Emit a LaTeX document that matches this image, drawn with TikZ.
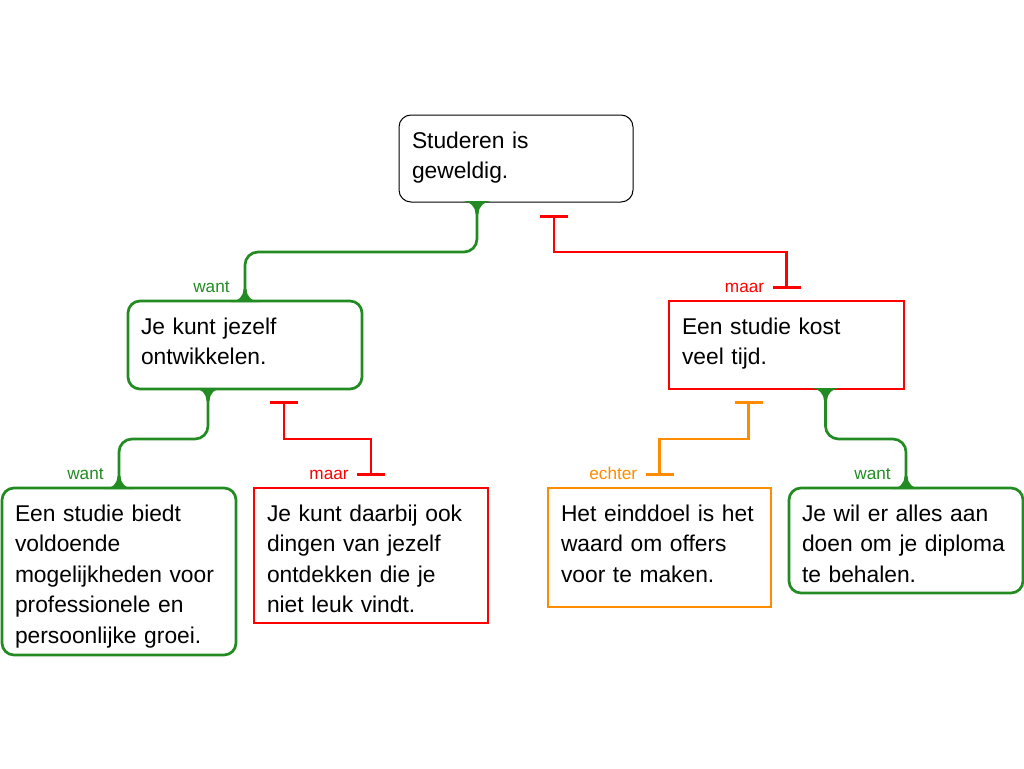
\documentclass[tikz,border=0pt]{standalone}
\usepackage{fontspec}
\setmainfont{Liberation Sans}
\usepackage{tikz}
\usetikzlibrary{positioning, calc, arrows.meta}
\definecolor{wantgreen}{RGB}{34,139,34}
\definecolor{maarred}{RGB}{255,0,0}
\definecolor{echterorange}{RGB}{255,140,0}
\tikzstyle{claim} = [rectangle, draw=black, line width=1pt, rounded corners=12pt, anchor=north west, outer sep=0pt, inner xsep=13pt, inner ysep=0pt, align=left, text height=33pt, font=\fontsize{22.8}{30.5}\selectfont]
\tikzstyle{pro} = [claim, draw=wantgreen, line width=2.7pt]
\tikzstyle{con} = [claim, draw=maarred, line width=2.7pt, sharp corners]
\tikzstyle{rebut} = [con, draw=echterorange]
\tikzstyle{support} = [line width=2.7pt, draw=wantgreen, rounded corners=13pt]
\tikzstyle{objection} = [line width=2.7pt, draw=maarred, {Bar[width=28pt,sep=4pt]}-{Bar[width=28pt,sep=4pt]}]
\tikzstyle{lbl} = [font=\fontsize{17.2}{19}\selectfont, anchor=base east, inner sep=0pt]
\tikzset{fillet/.pic={\fill[wantgreen] (-14.4,-1) .. controls (-7.2,-1) and (-1.4,4.8) .. (-1.4,12) -- (1.4,12) .. controls (1.4,4.8) and (7.2,-1) .. (14.4,-1) -- cycle;}}

\begin{document}
\begin{tikzpicture}[x=1pt, y=-1pt]
		\useasboundingbox (0,0) rectangle (1024,768);
		\node (root) [claim, text width=208pt, text depth=54pt] at (399,115) {Studeren is\\geweldig.};
		\node (ontw) [pro, text width=208pt, text depth=55pt] at (128,301) {Je kunt jezelf\\ontwikkelen.};
		\node (kost) [con, right=307pt of ontw.north east, anchor=north west, text width=209pt, text depth=55pt] {Een studie kost\\veel tijd.};
		\node (groei) [pro, text width=208pt, text depth=134pt] at (2,488) {Een studie biedt\\voldoende\\mogelijkheden voor\\professionele en\\persoonlijke groei.};
		\node (leuk) [con, right=18pt of groei.north east, anchor=north west, text width=208pt, text depth=102pt] {Je kunt daarbij ook\\dingen van jezelf\\ontdekken die je\\niet leuk vindt.};
		\node (offers) [rebut, right=60pt of leuk.north east, anchor=north west, text width=197pt, text depth=86pt] {Het einddoel is het\\waard om offers\\voor te maken.};
		\node (diploma) [pro, right=18pt of offers.north east, anchor=north west, text width=208pt, text depth=72pt] {Je wil er alles aan\\doen om je diploma\\te behalen.};
		% want
		\draw [support]($(root.south)+(-39,0)$) -- ++(0,50) -| (ontw.north) node[lbl, wantgreen, xshift=-14pt, yshift=9pt]{want};
		\draw [support]($(ontw.south)+(-37,0)$) -- ++(0,50) -| (groei.north) node[lbl, wantgreen, xshift=-14pt, yshift=8.5pt]{want};
		\draw [support]($(kost.south)+(39,0)$) -- ++(0,50) -| (diploma.north) node[lbl, wantgreen, xshift=-14pt, yshift=8.5pt]{want};
		\pic at ($(root.south)+(-39,0)$) {fillet};
		\pic at ($(ontw.south)+(-37,0)$) {fillet};
		\pic at ($(kost.south)+(39,0)$) {fillet};
		\pic[rotate=180] at (ontw.north) {fillet};
		\pic[rotate=180] at (groei.north) {fillet};
		\pic[rotate=180] at (diploma.north) {fillet};
		% maar / echter
		\draw [objection]($(root.south)+(38,9)$) -- ++(0,41) -| ($(kost.north)+(0,-8)$) node[lbl, maarred, xshift=-21pt, yshift=1pt]{maar};
		\draw [objection]($(ontw.south)+(39,8)$) -- ++(0,42) -| ($(leuk.north)+(0,-8)$) node[lbl, maarred, xshift=-21pt, yshift=0.5pt]{maar};
		\draw [objection, draw=echterorange]($(kost.south)+(-38,8)$) -- ++(0,42) -| ($(offers.north)+(0,-8)$) node[lbl, echterorange, xshift=-21pt, yshift=0.5pt]{echter};
	\end{tikzpicture}
\end{document}
